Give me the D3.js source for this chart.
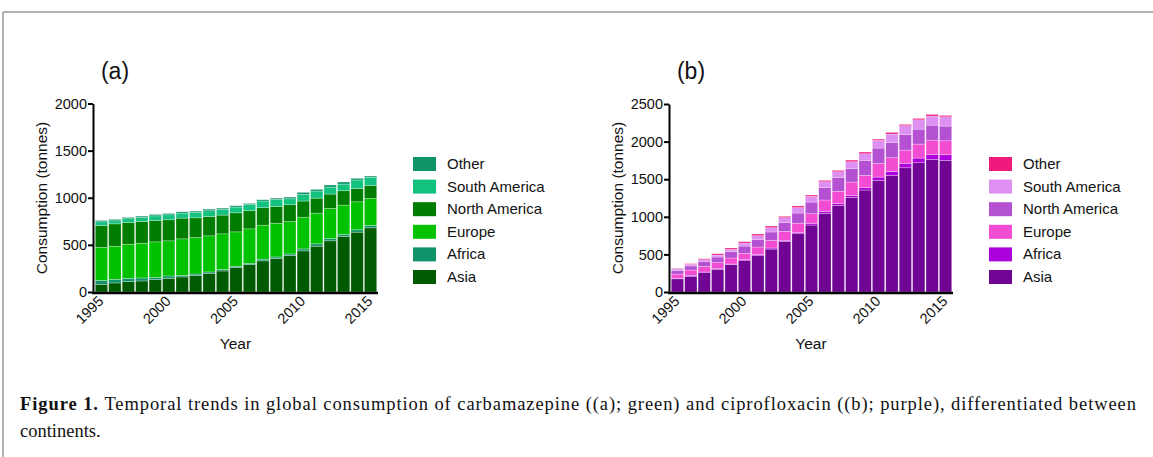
<!DOCTYPE html>
<html>
<head>
<meta charset="utf-8">
<script src="https://cdn.jsdelivr.net/npm/d3@7"></script>
<style>
  body { margin: 0; background: #fff; }
  svg text { font-family: "Liberation Sans", Arial, sans-serif; fill: #111; }
</style>
</head>
<body>
<svg id="fig" width="1153" height="457"></svg>
<script>
var years = [1995, 1996, 1997, 1998, 1999, 2000, 2001, 2002, 2003, 2004, 2005,
             2006, 2007, 2008, 2009, 2010, 2011, 2012, 2013, 2014, 2015]
var regions = ['Asia', 'Africa', 'Europe', 'North America', 'South America', 'Other']
var legendOrder = ['Other', 'South America', 'North America', 'Europe', 'Africa', 'Asia']
var xTickYears = [1995, 2000, 2005, 2010, 2015]
var yTicksA = [0, 500, 1000, 1500, 2000]
var yTicksB = [0, 500, 1000, 1500, 2000, 2500]

// (a) carbamazepine, tonnes per continent
var cbzAsia   = [82, 96, 110, 117, 131, 145, 160, 174, 199, 223, 259, 291, 330, 355, 387, 436, 486, 543, 589, 635, 681]
var cbzAfrica = [40, 39, 35, 32, 25, 25, 17, 17, 14, 15, 14, 14, 18, 17, 17, 21, 25, 24, 21, 25, 25]
var cbzEurope = [353, 351, 362, 369, 376, 373, 387, 387, 383, 379, 365, 365, 361, 358, 344, 337, 326, 320, 312, 297, 287]
var cbzNAm    = [231, 237, 231, 230, 227, 223, 220, 209, 205, 199, 202, 192, 185, 178, 178, 171, 159, 152, 152, 142, 138]
var cbzSAm    = [39, 32, 39, 43, 49, 53, 53, 57, 61, 60, 61, 67, 71, 74, 63, 70, 75, 74, 71, 89, 85]
var cbzOther  = [14, 15, 14, 14, 15, 14, 14, 14, 17, 14, 14, 11, 14, 14, 18, 22, 18, 22, 22, 18, 14]

// (b) ciprofloxacin, tonnes per continent
var cipAsia   = [175, 208, 257, 301, 363, 416, 483, 571, 673, 775, 890, 1045, 1152, 1258, 1356, 1484, 1550, 1652, 1719, 1763, 1750]
var cipAfrica = [8, 14, 9, 14, 9, 14, 13, 14, 14, 18, 23, 27, 26, 27, 31, 44, 54, 58, 62, 67, 75]
var cipEurope = [55, 70, 75, 75, 80, 84, 102, 102, 119, 122, 128, 151, 160, 177, 164, 182, 181, 177, 186, 190, 186]
var cipNAm    = [45, 54, 67, 75, 84, 97, 102, 111, 120, 135, 155, 168, 186, 182, 199, 204, 204, 208, 199, 199, 195]
var cipSAm    = [25, 22, 22, 27, 31, 40, 49, 57, 62, 72, 75, 75, 75, 88, 88, 102, 111, 116, 124, 120, 124]
var cipOther  = [7, 9, 13, 17, 18, 18, 22, 22, 18, 22, 18, 18, 18, 22, 23, 17, 22, 17, 18, 22, 18]

var greens = {
    'Asia': '#005a00', 'Africa': '#10936a', 'Europe': '#00c200',
    'North America': '#007d00', 'South America': '#14c27f', 'Other': '#0f9468'
}
var purples = {
    'Asia': '#6f0592', 'Africa': '#ac00dd', 'Europe': '#f24dd2',
    'North America': '#b451d2', 'South America': '#dd8ff2', 'Other': '#f01a7c'
}

function makeTable(cols) {
    return years.map(function(y, i) {
        var row = { year: y }
        regions.forEach(function(r, k) { row[r] = cols[k][i] })
        return row
    })
}

var svg = d3.select('#fig')

// frame lines of the page
svg.append('line').attr('x1', 3).attr('x2', 1153).attr('y1', 12).attr('y2', 12)
    .attr('stroke', '#999').attr('stroke-width', 1.5)
svg.append('line').attr('x1', 3).attr('x2', 3).attr('y1', 12).attr('y2', 457)
    .attr('stroke', '#999').attr('stroke-width', 1.5)

function drawPanel(cfg) {
    var g = svg.append('g')
    var base = 292

    var x = d3.scaleBand()
        .domain(years)
        .range([cfg.x0 + 1, cfg.x1])
        .paddingInner(0.08)
        .paddingOuter(0.02)

    var y = d3.scaleLinear()
        .domain([0, cfg.yMax])
        .range([base, cfg.yTop])

    var stacked = d3.stack().keys(regions)(cfg.table)

    g.selectAll('g.layer')
        .data(stacked)
        .enter()
        .append('g')
        .classed('layer', true)
        .attr('fill', function(d) { return cfg.colors[d.key] })
        .selectAll('rect')
        .data(function(d) { return d })
        .enter()
        .append('rect')
        .attr('x', function(d) { return x(d.data.year) })
        .attr('width', x.bandwidth())
        .attr('y', function(d) { return y(d[1]) })
        .attr('height', function(d) { return y(d[0]) - y(d[1]) })
        .attr('stroke', '#fff')
        .attr('stroke-opacity', 0.45)
        .attr('stroke-width', 0.6)

    // y axis
    var yAxis = d3.axisLeft(y).tickValues(cfg.ticks).tickSize(5).tickSizeOuter(0)
        .tickPadding(1).tickFormat(d3.format('d'))
    var ya = g.append('g')
        .attr('transform', 'translate(' + (cfg.x0 - 1) + ',0)')
        .call(yAxis)
    ya.select('.domain').attr('stroke', '#000').attr('stroke-width', 2)
    ya.selectAll('.tick line').attr('stroke', '#000').attr('stroke-width', 2)
    ya.selectAll('.tick text')
        .style('font-family', '"Liberation Sans", Arial, sans-serif')
        .style('font-size', '14.5px').attr('fill', '#111')

    // x axis line
    g.append('line')
        .attr('x1', cfg.x0 - 2).attr('x2', cfg.x1 + 1)
        .attr('y1', base + 1).attr('y2', base + 1)
        .attr('stroke', '#000').attr('stroke-width', 2.5)

    g.selectAll('text.xlab')
        .data(xTickYears)
        .enter()
        .append('text')
        .classed('xlab', true)
        .attr('text-anchor', 'end')
        .style('font-size', '14.5px')
        .attr('transform', function(d) {
            return 'translate(' + (x(d) + x.bandwidth() / 2 + 3) + ',' + (base + 10) + ') rotate(-45)'
        })
        .text(function(d) { return d })

    // axis titles
    g.append('text')
        .attr('text-anchor', 'middle')
        .style('font-size', '15.5px')
        .attr('transform', 'translate(' + (cfg.x0 - 47) + ',198) rotate(-90)')
        .text('Consumption (tonnes)')

    g.append('text')
        .attr('x', (cfg.x0 + cfg.x1) / 2)
        .attr('y', 349)
        .attr('text-anchor', 'middle')
        .style('font-size', '15.5px')
        .text('Year')

    g.append('text')
        .attr('x', cfg.x0 + 21)
        .attr('y', 79)
        .attr('text-anchor', 'middle')
        .style('font-size', '23px')
        .text(cfg.label)

    // legend
    var leg = g.selectAll('g.leg')
        .data(legendOrder)
        .enter()
        .append('g')
        .classed('leg', true)
        .attr('transform', function(d, i) {
            return 'translate(' + cfg.legendX + ',' + (157 + i * 22.6) + ')'
        })
    leg.append('rect')
        .attr('width', 23).attr('height', 14)
        .attr('fill', function(d) { return cfg.colors[d] })
    leg.append('text')
        .attr('x', 34).attr('y', 12)
        .style('font-size', '15px')
        .text(function(d) { return d })
}

drawPanel({
    x0: 94, x1: 377, yTop: 103.5, yMax: 2000, ticks: yTicksA,
    table: makeTable([cbzAsia, cbzAfrica, cbzEurope, cbzNAm, cbzSAm, cbzOther]),
    colors: greens, label: '(a)', legendX: 413
})

drawPanel({
    x0: 670, x1: 952, yTop: 104, yMax: 2500, ticks: yTicksB,
    table: makeTable([cipAsia, cipAfrica, cipEurope, cipNAm, cipSAm, cipOther]),
    colors: purples, label: '(b)', legendX: 989
})

// caption
var serif = '"Liberation Serif", "DejaVu Serif", serif'
var line1 = svg.append('text').attr('x', 20).attr('y', 410)
    .style('font-family', serif).style('font-size', '18.5px')
line1.append('tspan').style('font-weight', 'bold').style('font-family', serif).text('Figure 1. ')
line1.append('tspan').style('font-family', serif)
    .text('Temporal trends in global consumption of carbamazepine ((a); green) and ciprofloxacin ((b); purple), differentiated between')
var w = line1.node().getComputedTextLength()
if (w < 1116) {
    line1.attr('textLength', 1116).attr('lengthAdjust', 'spacing')
}
svg.append('text').attr('x', 20).attr('y', 437)
    .style('font-family', serif).style('font-size', '18.5px')
    .text('continents.')
</script>
</body>
</html>
